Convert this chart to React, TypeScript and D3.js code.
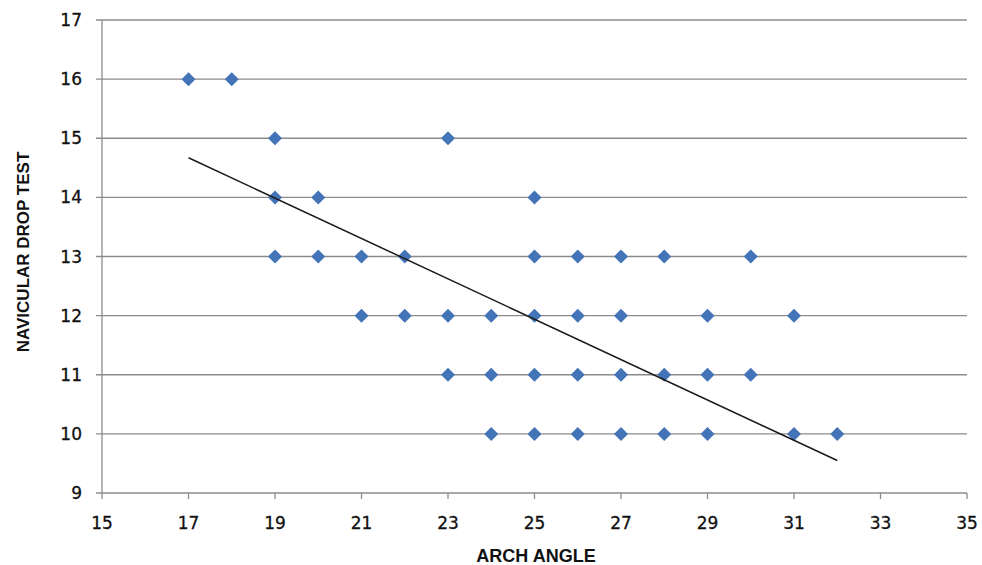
import React from "react";
import * as d3 from "d3";

const xTicks = [15, 17, 19, 21, 23, 25, 27, 29, 31, 33, 35];
const yTicks = [9, 10, 11, 12, 13, 14, 15, 16, 17];
const archAngle = [17, 18, 19, 23, 19, 20, 25, 19, 20, 21, 22, 25, 26, 27, 28, 30, 21, 22, 23, 24, 25, 26, 27, 29, 31, 23, 24, 25, 26, 27, 28, 29, 30, 24, 25, 26, 27, 28, 29, 31, 32];
const navicularDrop = [16, 16, 15, 15, 14, 14, 14, 13, 13, 13, 13, 13, 13, 13, 13, 13, 12, 12, 12, 12, 12, 12, 12, 12, 12, 11, 11, 11, 11, 11, 11, 11, 11, 10, 10, 10, 10, 10, 10, 10, 10];
const trendX = [17, 32];
const trendY = [14.67, 9.55];

export default function App() {
  const W = 982, H = 565;
  const left = 102, right = 967, top = 20, bottom = 493;
  const x = d3.scaleLinear().domain([15, 35]).range([left, right]);
  const y = d3.scaleLinear().domain([9, 17]).range([bottom, top]);
  const r = 7;
  const font = "'DejaVu Sans', Verdana, sans-serif";
  const titleFont = "'Liberation Sans', Arial, sans-serif";
  const line = d3.line<number>().x((d, i) => x(trendX[i])).y((d, i) => y(trendY[i]));
  return (
    <svg width={W} height={H} style={{ position: "absolute", left: 0, top: 0, background: "#fff" }}>
      {yTicks.map((t) => (
        <g key={"y" + t}>
          <line x1={left - 6} x2={right} y1={y(t)} y2={y(t)} stroke="#8c8c8c" strokeWidth={1.3} />
          <text x={82} y={y(t)} dy="0.36em" textAnchor="end" fontFamily={font} fontSize={17} fill="#111" stroke="#111" strokeWidth={0.3}>{t}</text>
        </g>
      ))}
      <line x1={left} x2={left} y1={top} y2={bottom} stroke="#8c8c8c" strokeWidth={1.3} />
      {xTicks.map((t) => (
        <g key={"x" + t}>
          <line x1={x(t)} x2={x(t)} y1={bottom} y2={bottom + 6} stroke="#8c8c8c" strokeWidth={1.3} />
          <text x={x(t)} y={bottom + 36} textAnchor="middle" fontFamily={font} fontSize={17} fill="#111" stroke="#111" strokeWidth={0.3}>{t}</text>
        </g>
      ))}
      {archAngle.map((a, i) => {
        const cx = x(a), cy = y(navicularDrop[i]);
        return <path key={i} d={`M${cx},${cy - r}L${cx + r},${cy}L${cx},${cy + r}L${cx - r},${cy}Z`} fill="#4374b8" />;
      })}
      <path d={line(trendX) || ""} fill="none" stroke="#1a1a1a" strokeWidth={1.5} />
      <text x={536} y={562} textAnchor="middle" fontFamily={titleFont} fontSize={18} fontWeight="bold" fill="#111">ARCH ANGLE</text>
      <text transform={`translate(29,252) rotate(-90)`} textAnchor="middle" fontFamily={titleFont} fontSize={17} fontWeight="bold" fill="#111">NAVICULAR DROP TEST</text>
    </svg>
  );
}
